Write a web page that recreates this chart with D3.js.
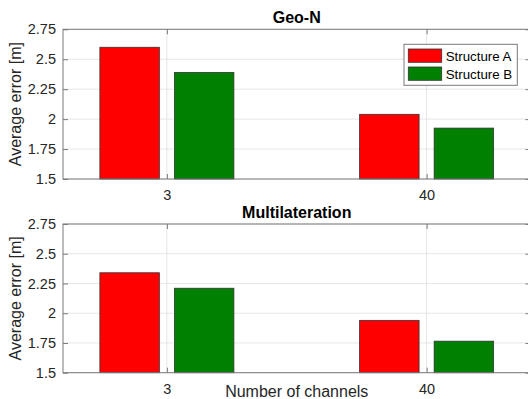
<!DOCTYPE html>
<html>
<head>
<meta charset="utf-8">
<script src="https://cdn.jsdelivr.net/npm/d3@7"></script>
<style>
  html, body { margin: 0; padding: 0; background: #fff; overflow: hidden; }
  svg { display: block; font-family: Arial, "Liberation Sans", Helvetica, sans-serif; }
</style>
</head>
<body>
<svg id="chart" width="528" height="399"></svg>
<script>
// Number of channels on the x axis
const channels = ["3", "40"];
// Series names and colours
const seriesNames = ["Structure A", "Structure B"];
const seriesColors = ["#ff0000", "#008000"];
// Average error [m] for each panel, one array per structure
const geoN_A = [2.60, 2.04];
const geoN_B = [2.39, 1.925];
const multi_A = [2.34, 1.94];
const multi_B = [2.21, 1.765];
// Y axis ticks
const yTicks = [1.5, 1.75, 2, 2.25, 2.5, 2.75];
const yTickLabels = ["1.5", "1.75", "2", "2.25", "2.5", "2.75"];

const panels = [
  { title: "Geo-N", series: [geoN_A, geoN_B], top: 29.3, bottom: 179, legend: true, xlabel: false },
  { title: "Multilateration", series: [multi_A, multi_B], top: 224, bottom: 372.7, legend: false, xlabel: true }
];

const svg = d3.select("#chart");
const left = 63, right = 530.5;
const axisColor = "#7a7a7a";
const textColor = "#262626";

const x = d3.scalePoint().domain(channels).range([left, right]).padding(0.4);
const step = x.step();
const barW = step * 0.229;
const barOff = step * 0.1435;

panels.forEach(p => {
  const g = svg.append("g");
  const y = d3.scaleLinear().domain([1.5, 2.75]).range([p.bottom, p.top]);

  // grid
  g.append("g").selectAll("line.hg").data(yTicks).join("line")
    .attr("x1", left).attr("x2", right)
    .attr("y1", d => y(d)).attr("y2", d => y(d))
    .attr("stroke", "#e6e6e6").attr("stroke-width", 1);
  g.append("g").selectAll("line.vg").data(channels).join("line")
    .attr("x1", d => x(d)).attr("x2", d => x(d))
    .attr("y1", p.top).attr("y2", p.bottom)
    .attr("stroke", "#e6e6e6").attr("stroke-width", 1);

  // bars
  p.series.forEach((vals, si) => {
    g.append("g").selectAll("rect").data(channels).join("rect")
      .attr("x", (c) => x(c) + (si === 0 ? -barOff : barOff) - barW / 2)
      .attr("width", barW)
      .attr("y", (c, i) => y(vals[i]))
      .attr("height", (c, i) => y(1.5) - y(vals[i]))
      .attr("fill", seriesColors[si])
      .attr("stroke", "#333")
      .attr("stroke-width", 0.8);
  });

  // box
  g.append("rect")
    .attr("x", left).attr("y", p.top)
    .attr("width", right - left).attr("height", p.bottom - p.top)
    .attr("fill", "none").attr("stroke", axisColor).attr("stroke-width", 1);

  // y axis
  const yAxis = d3.axisLeft(y).tickValues(yTicks)
    .tickFormat((d, i) => yTickLabels[i]).tickSizeInner(-5).tickSizeOuter(0).tickPadding(7);
  const ya = g.append("g").attr("transform", `translate(${left},0)`).call(yAxis);
  ya.select(".domain").remove();
  ya.selectAll("line").attr("stroke", axisColor);
  ya.selectAll("text").attr("fill", textColor).attr("font-size", 14.5)
    .attr("font-family", "Arial, 'Liberation Sans', sans-serif");

  // right side ticks
  const yr = g.append("g").attr("transform", `translate(${right},0)`)
    .call(d3.axisRight(y).tickValues(yTicks).tickSizeInner(-5).tickSizeOuter(0).tickFormat(""));
  yr.select(".domain").remove();
  yr.selectAll("line").attr("stroke", axisColor);

  // x axis
  const xAxis = d3.axisBottom(x).tickSizeInner(-5).tickSizeOuter(0).tickPadding(11);
  const xa = g.append("g").attr("transform", `translate(0,${p.bottom})`).call(xAxis);
  xa.select(".domain").remove();
  xa.selectAll("line").attr("stroke", axisColor);
  xa.selectAll("text").attr("fill", textColor).attr("font-size", 14.5)
    .attr("font-family", "Arial, 'Liberation Sans', sans-serif");
  const xt = g.append("g").attr("transform", `translate(0,${p.top})`)
    .call(d3.axisTop(x).tickSizeInner(-5).tickSizeOuter(0).tickFormat(""));
  xt.select(".domain").remove();
  xt.selectAll("line").attr("stroke", axisColor);

  // title
  g.append("text")
    .attr("x", (left + right) / 2).attr("y", p.top - 6)
    .attr("text-anchor", "middle")
    .attr("font-weight", "bold").attr("font-size", 16)
    .attr("fill", "#000")
    .text(p.title);

  // y label
  g.append("text")
    .attr("transform", `translate(21,${(p.top + p.bottom) / 2}) rotate(-90)`)
    .attr("text-anchor", "middle")
    .attr("font-size", 16).attr("fill", textColor)
    .text("Average error [m]");

  if (p.xlabel) {
    g.append("text")
      .attr("x", (left + right) / 2).attr("y", 397)
      .attr("text-anchor", "middle")
      .attr("font-size", 16).attr("fill", textColor)
      .text("Number of channels");
  }

  if (p.legend) {
    const lg = g.append("g").attr("transform", "translate(404,44.3)");
    lg.append("rect").attr("width", 113.3).attr("height", 41)
      .attr("fill", "#fff").attr("stroke", axisColor).attr("stroke-width", 1);
    seriesNames.forEach((name, i) => {
      lg.append("rect")
        .attr("x", 4.3).attr("y", 4.7 + i * 18)
        .attr("width", 33.4).attr("height", 13.3)
        .attr("fill", seriesColors[i]).attr("stroke", "#333").attr("stroke-width", 0.8);
      lg.append("text")
        .attr("x", 41.7).attr("y", 16.6 + i * 18)
        .attr("font-size", 13.3).attr("fill", "#000")
        .text(name);
    });
  }
});
</script>
</body>
</html>
